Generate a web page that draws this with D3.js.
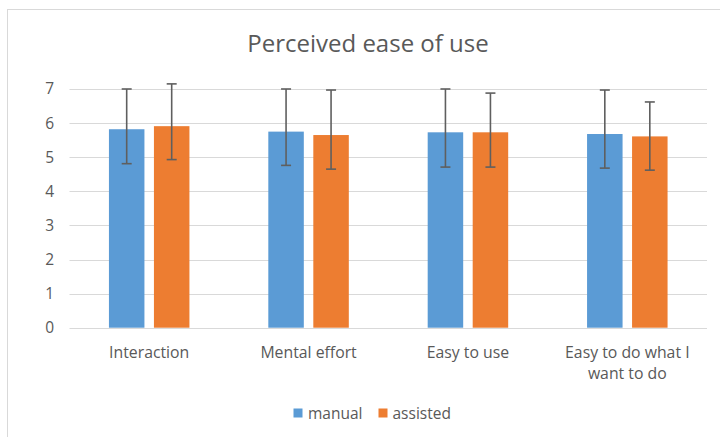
<!DOCTYPE html>
<html>
<head>
<meta charset="utf-8">
<script src="https://cdn.jsdelivr.net/npm/d3@7"></script>
<style>
  html, body { margin: 0; padding: 0; background: #fff; }
  svg text { font-family: "Open Sans", "Noto Sans", sans-serif; fill: #595959; }
</style>
</head>
<body>
<svg id="chart" width="720" height="437"></svg>
<script>
const categories = ["Interaction", "Mental effort", "Easy to use", "Easy to do what I want to do"];
const categoryLines = [["Interaction"], ["Mental effort"], ["Easy to use"], ["Easy to do what I", "want to do"]];
const seriesNames = ["manual", "assisted"];
const manual = [5.82, 5.75, 5.73, 5.68];
const assisted = [5.91, 5.65, 5.73, 5.61];
const manualErrPlus = [1.18, 1.25, 1.27, 1.29];
const manualErrMinus = [1.01, 0.99, 1.02, 1.00];
const assistedErrPlus = [1.24, 1.32, 1.15, 1.01];
const assistedErrMinus = [0.98, 1.00, 1.02, 0.99];
const yTicks = [0, 1, 2, 3, 4, 5, 6, 7];
const title = "Perceived ease of use";

const colors = { manual: "#5B9BD5", assisted: "#ED7D31" };
const seriesData = {
  manual: { values: manual, plus: manualErrPlus, minus: manualErrMinus },
  assisted: { values: assisted, plus: assistedErrPlus, minus: assistedErrMinus }
};

const svg = d3.select("#chart");

// outer chart frame
svg.append("rect")
  .attr("x", 7.5).attr("y", 9.5).attr("width", 740).attr("height", 460)
  .attr("fill", "none").attr("stroke", "#d9d9d9").attr("stroke-width", 1);

const plot = { left: 69.5, right: 707, top: 89, bottom: 327.7 };

const x0 = d3.scaleBand().domain(categories).range([plot.left, plot.right]).paddingInner(0).paddingOuter(0);
const bw = x0.bandwidth();
const x1 = d3.scaleBand().domain(seriesNames)
  .range([bw / 2 - 40.25, bw / 2 + 40.25]).paddingInner(0.2111).paddingOuter(0);
const y = d3.scaleLinear().domain([0, 7]).range([plot.bottom, plot.top]);

// gridlines
svg.append("g").selectAll("line").data(yTicks).join("line")
  .attr("x1", plot.left).attr("x2", plot.right)
  .attr("y1", d => Math.round(y(d)) + 0.5).attr("y2", d => Math.round(y(d)) + 0.5)
  .attr("stroke", "#d9d9d9").attr("stroke-width", 1.2);

// y tick labels
const yAxis = d3.axisLeft(y).tickValues(yTicks).tickFormat(d3.format("d")).tickSize(0).tickPadding(0);
const ya = svg.append("g").attr("transform", `translate(54,0)`).call(yAxis);
ya.select(".domain").remove();
ya.selectAll("text").attr("font-size", 15.5).style("fill", "#595959")
  .attr("font-family", "'Open Sans', 'Noto Sans', sans-serif");

// bars
const groups = svg.append("g").selectAll("g").data(categories).join("g")
  .attr("transform", d => `translate(${x0(d)},0)`);

seriesNames.forEach(s => {
  groups.append("rect")
    .attr("x", x1(s))
    .attr("width", x1.bandwidth())
    .attr("y", (d, i) => y(seriesData[s].values[i]))
    .attr("height", (d, i) => y(0) - y(seriesData[s].values[i]))
    .attr("fill", colors[s]);
});

// error bars
seriesNames.forEach(s => {
  const cx = x1(s) + x1.bandwidth() / 2;
  const eb = groups.append("g").attr("stroke", "#5f5f5f").attr("stroke-width", 1.6);
  eb.append("line")
    .attr("x1", cx).attr("x2", cx)
    .attr("y1", (d, i) => y(seriesData[s].values[i] + seriesData[s].plus[i]))
    .attr("y2", (d, i) => y(seriesData[s].values[i] - seriesData[s].minus[i]));
  eb.append("line")
    .attr("x1", cx - 5).attr("x2", cx + 5)
    .attr("y1", (d, i) => y(seriesData[s].values[i] + seriesData[s].plus[i]))
    .attr("y2", (d, i) => y(seriesData[s].values[i] + seriesData[s].plus[i]));
  eb.append("line")
    .attr("x1", cx - 5).attr("x2", cx + 5)
    .attr("y1", (d, i) => y(seriesData[s].values[i] - seriesData[s].minus[i]))
    .attr("y2", (d, i) => y(seriesData[s].values[i] - seriesData[s].minus[i]));
});

// category labels
const catLabels = svg.append("g").selectAll("text").data(categories).join("text")
  .attr("x", d => x0(d) + bw / 2)
  .attr("y", 357.5)
  .attr("text-anchor", "middle")
  .attr("font-size", 15.8);
catLabels.each(function(d, i) {
  const t = d3.select(this);
  categoryLines[i].forEach((line, j) => {
    t.append("tspan").attr("x", x0(d) + bw / 2).attr("dy", j === 0 ? 0 : 21).text(line);
  });
});

// title
svg.append("text")
  .attr("x", 368).attr("y", 52)
  .attr("text-anchor", "middle")
  .attr("font-size", 24)
  .text(title);

// legend
const legendItems = [
  { name: "manual", sx: 293.5, tx: 308 },
  { name: "assisted", sx: 378.5, tx: 392.5 }
];
const lg = svg.append("g");
lg.selectAll("rect").data(legendItems).join("rect")
  .attr("x", d => d.sx).attr("y", 408.5).attr("width", 9).attr("height", 9)
  .attr("fill", d => colors[d.name]);
lg.selectAll("text").data(legendItems).join("text")
  .attr("x", d => d.tx).attr("y", 418.5)
  .attr("font-size", 15.5)
  .text(d => d.name);
</script>
</body>
</html>
